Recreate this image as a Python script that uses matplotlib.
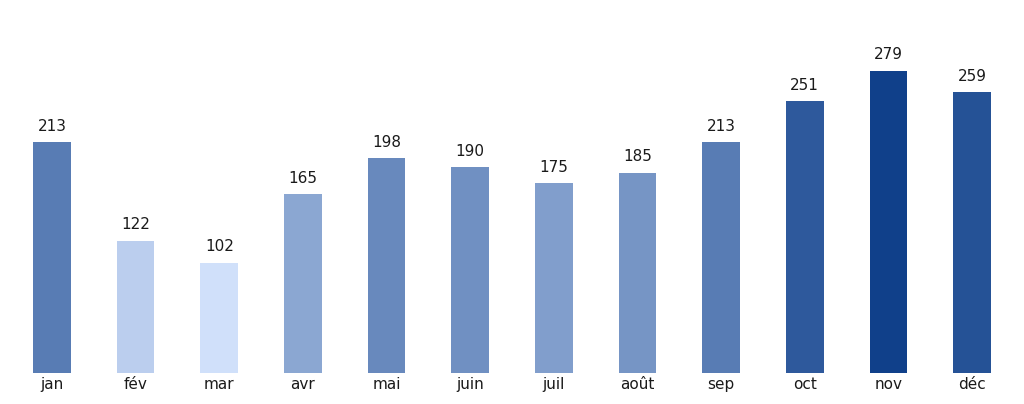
import matplotlib
matplotlib.use("Agg")
import matplotlib.pyplot as plt
import numpy as np
from matplotlib.colors import LinearSegmentedColormap, Normalize

months = ["jan", "fév", "mar", "avr", "mai", "juin", "juil", "août", "sep", "oct", "nov", "déc"]
values = [213, 122, 102, 165, 198, 190, 175, 185, 213, 251, 279, 259]

cmap = LinearSegmentedColormap.from_list("blues", ["#d0e0fa", "#10408a"])
norm = Normalize(vmin=min(values), vmax=max(values))
colors = [cmap(norm(v)) for v in values]

fig = plt.figure(figsize=(10.24, 4.04), dpi=100)
ax = fig.add_axes([33 / 1024, 31 / 404, 958 / 1024, 325 / 404])
x = np.arange(len(months))
bars = ax.bar(x, values, width=0.45, color=colors)
for b, v in zip(bars, values):
    ax.annotate(str(v), (b.get_x() + b.get_width() / 2, v), xytext=(0, 6),
                textcoords="offset points", ha="center", va="bottom", fontsize=11, color="#1a1a1a")
ax.set_xlim(-0.227, len(months) - 1 + 0.227)
ax.set_ylim(0, 300)
ax.set_xticks(x)
ax.set_xticklabels(months, fontsize=11, color="#1a1a1a")
ax.tick_params(axis="x", length=0, pad=3)
ax.set_yticks([])
for s in ax.spines.values():
    s.set_visible(False)
fig.savefig("out.png", dpi=100)
